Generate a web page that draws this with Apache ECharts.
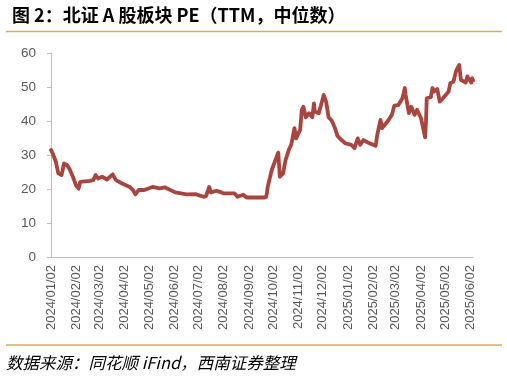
<!DOCTYPE html>
<html><head><meta charset="utf-8">
<script src="https://cdn.jsdelivr.net/npm/echarts@6/dist/echarts.min.js"></script>
<style>html,body{margin:0;padding:0;background:#fff}#c{width:507px;height:377px}</style>
</head><body><div id="c"></div>
<script>
const titleText = '图 2：北证 A 股板块 PE（TTM，中位数）';
const sourceText = '数据来源：同花顺 iFind，西南证券整理';
const startDate = '2024/01/02';
const endDate = '2025/06/05';
const tickLabels = ['2024/01/02','2024/02/02','2024/03/02','2024/04/02','2024/05/02','2024/06/02','2024/07/02','2024/08/02','2024/09/02','2024/10/02','2024/11/02','2024/12/02','2025/01/02','2025/02/02','2025/03/02','2025/04/02','2025/05/02','2025/06/02'];
const yTicks = [0,10,20,30,40,50,60];
const peDates = ['2024/01/02','2024/01/04','2024/01/08','2024/01/09','2024/01/11','2024/01/15','2024/01/18','2024/01/22','2024/01/25','2024/01/29','2024/02/02','2024/02/05','2024/02/07','2024/02/19','2024/02/23','2024/02/26','2024/02/29','2024/03/05','2024/03/11','2024/03/18','2024/03/22','2024/03/29','2024/04/08','2024/04/12','2024/04/15','2024/04/19','2024/04/26','2024/05/06','2024/05/15','2024/05/21','2024/06/03','2024/06/05','2024/06/17','2024/06/28','2024/07/08','2024/07/11','2024/07/15','2024/07/17','2024/07/19','2024/07/24','2024/07/30','2024/08/02','2024/08/15','2024/08/19','2024/08/26','2024/08/30','2024/09/06','2024/09/20','2024/09/23','2024/09/24','2024/09/25','2024/09/30','2024/10/08','2024/10/10','2024/10/14','2024/10/17','2024/10/21','2024/10/24','2024/10/28','2024/10/30','2024/11/04','2024/11/06','2024/11/08','2024/11/11','2024/11/15','2024/11/19','2024/11/21','2024/11/22','2024/11/27','2024/12/02','2024/12/03','2024/12/06','2024/12/09','2024/12/13','2024/12/17','2024/12/20','2024/12/25','2024/12/30','2025/01/06','2025/01/10','2025/01/14','2025/01/17','2025/01/21','2025/01/27','2025/02/05','2025/02/07','2025/02/11','2025/02/13','2025/02/18','2025/02/21','2025/02/25','2025/02/28','2025/03/05','2025/03/10','2025/03/13','2025/03/14','2025/03/18','2025/03/21','2025/03/25','2025/03/28','2025/04/02','2025/04/07','2025/04/08','2025/04/09','2025/04/14','2025/04/16','2025/04/18','2025/04/22','2025/04/25','2025/04/29','2025/05/06','2025/05/08','2025/05/12','2025/05/15','2025/05/19','2025/05/21','2025/05/23','2025/05/27','2025/05/29','2025/06/03','2025/06/04','2025/06/05'];
const peValues = [31.5,30.5,28,27.6,24.6,24.1,27.5,27,25.8,23.6,21,20.1,22.1,22.4,22.6,24.1,23.1,23.6,22.8,24.3,22.6,21.7,20.6,19.7,18.4,19.7,19.7,20.6,20.2,20.5,19,18.5,18.4,18.5,17.7,17.9,20.6,19,18.5,19.5,19,18.7,18.7,17.7,18.3,17.5,17.5,17.5,17.6,18.7,20.6,25.6,30.7,23.6,24.6,28.5,31.5,33,37.9,34.9,37.4,43.3,44.2,41.1,42.3,41.1,45.2,42.8,42.3,46.7,47.7,45.7,41.1,40.1,37.9,35.6,34.4,33.4,33,32,34.9,33,34.4,33.6,32.7,35.9,40.3,37.9,39.4,40.3,41.8,44.5,44.7,46.7,49.7,47.7,42.3,44.2,41.8,43.3,40.8,35.2,39.4,46.7,47,49.7,48.7,49.4,45.7,46.7,48.7,51.1,51.6,54.6,56.5,52.1,52.3,51.3,53.1,51.3,52.6,51.9];

function fmt(d){const m=String(d.getMonth()+1).padStart(2,'0');const dd=String(d.getDate()).padStart(2,'0');return d.getFullYear()+'/'+m+'/'+dd;}
const categories=[];
(function(){let d=new Date(startDate.replace(/\//g,'-')+'T00:00:00');const e=new Date(endDate.replace(/\//g,'-')+'T00:00:00');while(d<=e){categories.push(fmt(d));d=new Date(d.getFullYear(),d.getMonth(),d.getDate()+1);}})();
const seriesData = peDates.map((d,i)=>[categories.indexOf(d), peValues[i]]);

const chart = echarts.init(document.getElementById('c'), null, {renderer:'canvas'});
const gold = '#D8A960';
chart.setOption({
  animation:false,
  backgroundColor:'#fff',
  title:{text:titleText,left:7,top:1,textStyle:{fontFamily:'"Noto Sans CJK SC"',fontWeight:'bold',fontSize:18,color:'#000'}},
  graphic:[
    {type:'line',shape:{x1:6,y1:31.5,x2:502,y2:31.5},style:{stroke:gold,lineWidth:1.5}},
    {type:'line',shape:{x1:6,y1:345,x2:502,y2:345},style:{stroke:gold,lineWidth:1.5}},
    {type:'text',left:6,top:354,style:{text:sourceText,font:'italic 16.5px "Noto Sans CJK SC"',fill:'#000'}}
  ],
  grid:{left:51,right:34,top:53,bottom:120,containLabel:false},
  xAxis:{type:'category',data:categories,boundaryGap:false,
    axisLine:{lineStyle:{color:'#BFBFBF',width:1}},
    axisTick:{show:false},
    axisLabel:{interval:(i,v)=>tickLabels.includes(v),rotate:90,margin:8,color:'#595959',fontSize:13,fontFamily:'Liberation Sans'},
    splitLine:{show:false}},
  yAxis:{type:'value',min:yTicks[0],max:yTicks[yTicks.length-1],interval:10,
    axisLine:{show:true,lineStyle:{color:'#BFBFBF',width:1}},
    axisTick:{show:true,length:4,lineStyle:{color:'#BFBFBF'}},
    axisLabel:{color:'#595959',fontSize:13.5,fontFamily:'Liberation Sans',margin:15},
    splitLine:{show:false}},
  series:[{type:'line',data:seriesData,showSymbol:false,symbol:'none',
    lineStyle:{color:'#A9453F',width:3.8,join:'round',cap:'round'}}]
});
</script></body></html>
